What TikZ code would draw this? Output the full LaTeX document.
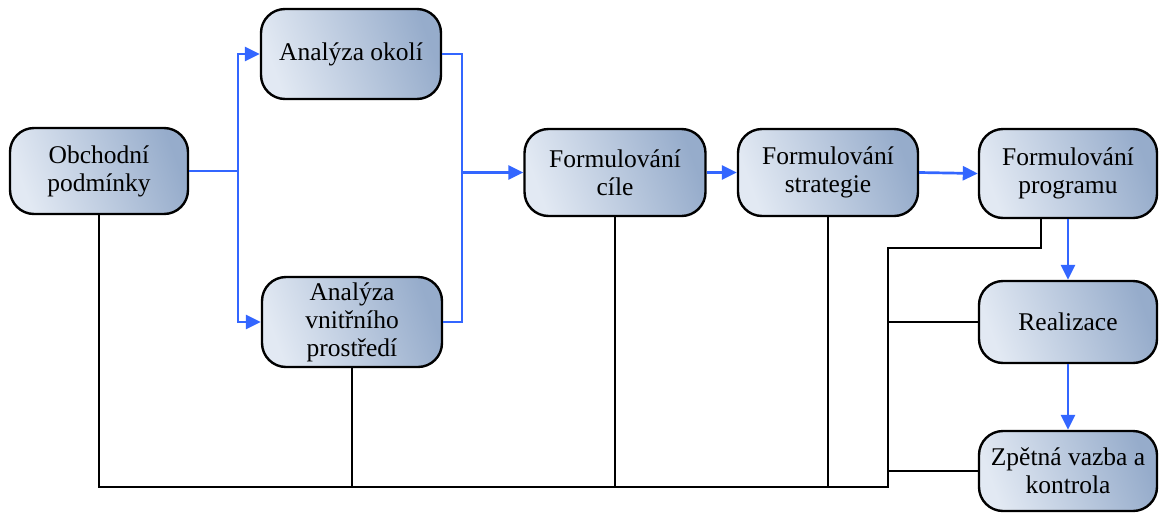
\documentclass[tikz,border=0pt]{standalone}
\usepackage{fontspec}
\setmainfont{Liberation Serif}
\usetikzlibrary{arrows.meta}
\definecolor{boxlight}{RGB}{226,233,243}
\definecolor{boxdark}{RGB}{150,172,203}
\definecolor{flowblue}{RGB}{51,102,255}
\tikzset{
  procbox/.style={draw=black, line width=2.4pt, rectangle, rounded corners=24pt,
    left color=boxlight, right color=boxdark, shading angle=110,
    minimum width=178pt, minimum height=86pt, inner sep=0pt,
    align=center, font=\fontsize{25.5}{28}\selectfont},
  flow/.style={draw=flowblue, line width=2.7pt},
  flowarrow/.style={flow, -{Triangle[length=15pt,width=14pt]}},
  link/.style={draw=black, line width=2.4pt},
}
\begin{document}
\begin{tikzpicture}[x=1pt,y=-1pt]
\useasboundingbox (0,0) rectangle (1159,512);

% process boxes
\node[procbox] (obch)  at (99,171)   {Obchodní\\podmínky};
\node[procbox, minimum width=180pt, minimum height=90pt] (okoli) at (351,54) {Analýza okolí};
\node[procbox, minimum width=180pt, minimum height=90pt] (vnitr) at (352,322) {Analýza\\vnitřního\\prostředí};
\node[procbox, minimum width=181pt, minimum height=87pt] (cile)  at (615,172.5) {Formulování\\cíle};
\node[procbox, minimum width=180pt, minimum height=87pt] (strat) at (828,172.5) {Formulování\\strategie};
\node[procbox, minimum height=89pt] (prog)  at (1068,173.5) {Formulování\\programu};
\node[procbox, minimum height=82pt] (real)  at (1068,322) {Realizace};
\node[procbox, minimum height=80pt] (zpet)  at (1068,471) {Zpětná vazba a\\kontrola};

% junction points
\coordinate (sx) at (238,0);
\coordinate (mx) at (462,0);
\coordinate (bx) at (888,487);
\coordinate (ptap) at (1041,248);

% blue flow
\draw[flow] (obch.east) -- (obch.east -| sx);
\draw[flowarrow] (obch.east -| sx) |- (okoli.west);
\draw[flowarrow] (obch.east -| sx) |- (vnitr.west);
\draw[flow] (okoli.east) -| (mx |- vnitr.east) -- (vnitr.east);
\draw[flowarrow] (mx |- cile.west) -- (cile.west);
\draw[flowarrow] (cile.east) -- (strat.west);
\draw[flowarrow] (strat.east) -- (prog.west);
\draw[flowarrow] (prog.south) -- (real.north);
\draw[flowarrow] (real.south) -- (zpet.north);

% black feedback links
\draw[link] (obch.south) |- (bx) -- (bx |- ptap) -- (ptap) -- (prog.south -| ptap);
\draw[link] (vnitr.south) -- (vnitr.south |- bx);
\draw[link] (cile.south) -- (cile.south |- bx);
\draw[link] (strat.south) -- (strat.south |- bx);
\draw[link] (real.west) -- (real.west -| bx);
\draw[link] (zpet.west) -- (zpet.west -| bx);
\end{tikzpicture}
\end{document}
